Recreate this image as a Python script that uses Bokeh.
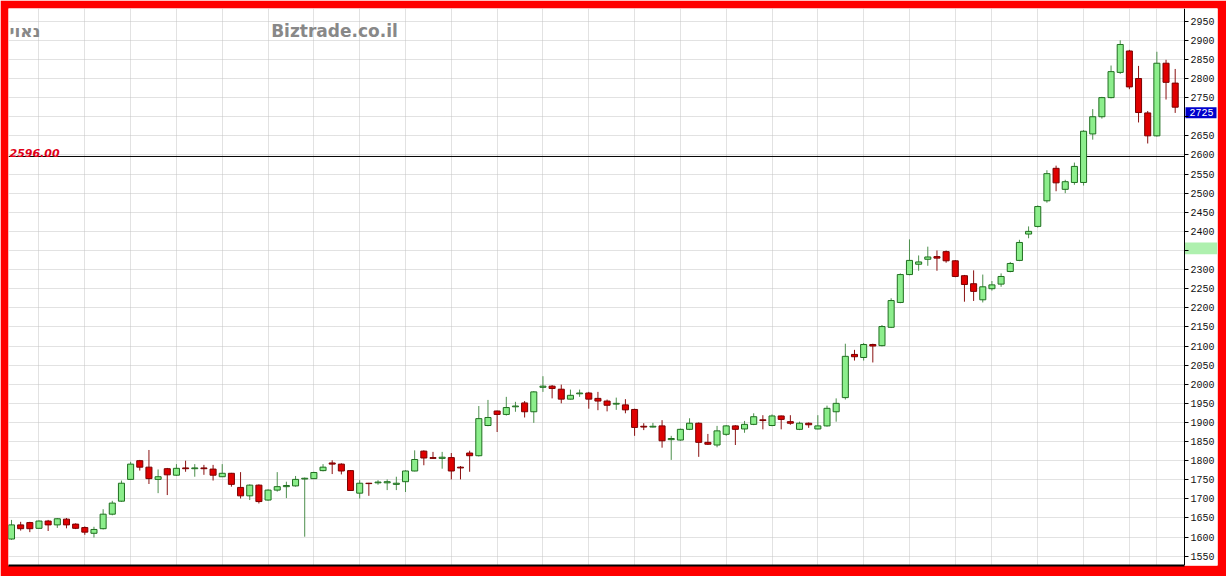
from bokeh.plotting import figure
from bokeh.models import Range1d, FixedTicker, Label
from bokeh.embed import file_html
from bokeh.resources import INLINE
from bokeh.core.properties import value

# ---- data ----
opens = [1595, 1632, 1638, 1623, 1642, 1632, 1647, 1634, 1625, 1610,
         1622, 1660, 1694, 1751, 1800, 1783, 1751, 1779, 1762, 1781,
         1779, 1781, 1778, 1758, 1767, 1730, 1708, 1736, 1697, 1723,
         1732, 1734, 1752, 1753, 1774, 1794, 1791, 1774, 1715, 1741,
         1742, 1742, 1738, 1745, 1773, 1825, 1808, 1806, 1808, 1783,
         1820, 1813, 1892, 1930, 1921, 1941, 1951, 1928, 1992, 1995,
         1987, 1961, 1975, 1977, 1963, 1956, 1948, 1946, 1934, 1890,
         1888, 1891, 1855, 1854, 1882, 1898, 1848, 1841, 1869, 1891,
         1883, 1895, 1907, 1892, 1917, 1902, 1882, 1898, 1883, 1891,
         1928, 1965, 2078, 2070, 2104, 2101, 2149, 2214, 2287, 2314,
         2327, 2334, 2347, 2323, 2284, 2263, 2221, 2250, 2262, 2295,
         2324, 2393, 2413, 2480, 2565, 2510, 2528, 2528, 2655, 2700,
         2750, 2816, 2872, 2800, 2710, 2650, 2840, 2788]
highs = [1645, 1640, 1640, 1644, 1645, 1650, 1650, 1636, 1628, 1627,
         1673, 1695, 1748, 1797, 1802, 1828, 1777, 1781, 1791, 1800,
         1791, 1789, 1789, 1791, 1768, 1770, 1738, 1738, 1725, 1770,
         1745, 1760, 1756, 1771, 1791, 1801, 1793, 1775, 1749, 1742,
         1749, 1751, 1758, 1775, 1827, 1827, 1823, 1823, 1820, 1786,
         1826, 1943, 1959, 1931, 1967, 1954, 1956, 1982, 2021, 1998,
         1999, 1986, 1986, 1980, 1980, 1960, 1965, 1961, 1936, 1898,
         1899, 1906, 1865, 1884, 1911, 1900, 1870, 1891, 1893, 1893,
         1904, 1924, 1919, 1921, 1918, 1919, 1902, 1900, 1919, 1944,
         1963, 2106, 2090, 2108, 2106, 2155, 2225, 2290, 2379, 2337,
         2360, 2350, 2350, 2325, 2286, 2298, 2287, 2270, 2290, 2320,
         2378, 2413, 2468, 2560, 2572, 2535, 2580, 2665, 2720, 2752,
         2834, 2900, 2875, 2833, 2715, 2870, 2849, 2825]
lows = [1593, 1617, 1613, 1622, 1616, 1624, 1623, 1621, 1606, 1599,
        1620, 1657, 1692, 1750, 1774, 1739, 1715, 1710, 1760, 1771,
        1758, 1763, 1748, 1757, 1732, 1701, 1697, 1688, 1695, 1719,
        1702, 1732, 1601, 1752, 1772, 1765, 1764, 1721, 1701, 1708,
        1737, 1723, 1723, 1718, 1772, 1788, 1805, 1779, 1751, 1751,
        1771, 1811, 1890, 1875, 1918, 1928, 1913, 1899, 1980, 1963,
        1950, 1960, 1967, 1936, 1932, 1929, 1933, 1924, 1865, 1880,
        1887, 1834, 1802, 1852, 1880, 1810, 1841, 1835, 1865, 1841,
        1873, 1893, 1882, 1890, 1882, 1894, 1880, 1886, 1882, 1889,
        1902, 1960, 2062, 2062, 2057, 2099, 2147, 2212, 2285, 2297,
        2310, 2297, 2318, 2280, 2216, 2218, 2214, 2245, 2255, 2293,
        2322, 2382, 2410, 2475, 2505, 2500, 2522, 2520, 2640, 2695,
        2748, 2812, 2772, 2685, 2630, 2648, 2745, 2710]
closes = [1632, 1622, 1622, 1642, 1632, 1648, 1632, 1623, 1613, 1620,
          1660, 1689, 1741, 1791, 1783, 1753, 1758, 1763, 1780, 1779,
          1781, 1779, 1762, 1767, 1738, 1708, 1736, 1693, 1723, 1732,
          1735, 1751, 1754, 1769, 1783, 1791, 1773, 1722, 1741, 1740,
          1744, 1745, 1741, 1773, 1803, 1807, 1806, 1809, 1773, 1781,
          1813, 1910, 1913, 1921, 1939, 1943, 1928, 1980, 1995, 1989,
          1961, 1971, 1977, 1961, 1956, 1945, 1950, 1933, 1887, 1888,
          1890, 1852, 1858, 1882, 1898, 1848, 1843, 1878, 1891, 1882,
          1895, 1915, 1905, 1917, 1908, 1898, 1898, 1894, 1891, 1937,
          1950, 2073, 2072, 2104, 2100, 2151, 2219, 2287, 2324, 2320,
          2333, 2330, 2323, 2282, 2261, 2243, 2255, 2260, 2282, 2316,
          2371, 2400, 2465, 2551, 2527, 2530, 2570, 2662, 2700, 2750,
          2818, 2889, 2778, 2711, 2650, 2840, 2790, 2725]
week_starts = [3, 8, 13, 18, 23, 28, 33, 38, 43, 48, 53, 58, 63, 68, 73, 78,
               83, 88, 93, 98, 103, 107, 112, 117, 122, 125]
y_ticks = list(range(1550, 2951, 50))
ref_level = 2596.00
last_price = 2725
green_zone = [2340, 2371]

# ---- layout constants ----
W, H = 1226, 576
B_LEFT, B_TOP, B_RIGHT, B_BOTTOM = 8, 8, 9, 11
Y0, Y1 = 1525.7, 2983.2
FRAME_W = W - B_LEFT - B_RIGHT
FRAME_H = H - B_TOP - B_BOTTOM
PX_PER_UNIT = FRAME_H / (Y1 - Y0)
PX_PER_CANDLE = 9.163
AXIS_W = 33
X_START = -0.327
X_END = X_START + FRAME_W / PX_PER_CANDLE
AXIS_X = X_START + (FRAME_W - AXIS_W) / PX_PER_CANDLE
PX = 1.0 / PX_PER_CANDLE          # one pixel in x units
TAG_H = 11 / PX_PER_UNIT          # price-tag height in price units

# ---- derived ----
idx = list(range(len(opens)))
is_up = [c >= o for o, c in zip(opens, closes)]
body_fill = ["#8cee8c" if u else "#e00000" for u in is_up]
body_line = ["#1f6e1f" if u else "#7a0000" for u in is_up]
wick_col = ["#4d8f4d" if u else "#8a1010" for u in is_up]
tops = [max(o, c) for o, c in zip(opens, closes)]
bots = [min(o, c) for o, c in zip(opens, closes)]

p = figure(width=W, height=H,
           x_range=Range1d(X_START, X_END), y_range=Range1d(Y0, Y1),
           output_backend="svg", toolbar_location=None,
           y_axis_location="right",
           min_border_left=B_LEFT, min_border_top=B_TOP,
           min_border_right=B_RIGHT, min_border_bottom=B_BOTTOM,
           border_fill_color="#ff0000", background_fill_color="white",
           outline_line_color=None)

# grids
p.ygrid.ticker = FixedTicker(ticks=y_ticks)
p.xgrid.ticker = FixedTicker(ticks=week_starts)
for g in (p.xgrid, p.ygrid):
    g.grid_line_color = "#c4c4c4"
    g.grid_line_dash = "1 1"
    g.grid_line_width = 1

# price-axis strip (white), green zone, last price tag
p.quad(left=[AXIS_X], right=[X_END], bottom=[Y0], top=[Y1],
       fill_color="white", line_color=None)
p.quad(left=[AXIS_X], right=[X_END], bottom=[green_zone[0]], top=[green_zone[1]],
       fill_color="#aef0ae", line_color=None)
p.quad(left=[AXIS_X + PX], right=[X_END - PX], bottom=[last_price - TAG_H], top=[last_price],
       fill_color="#0000cc", line_color=None)
p.text(x=[AXIS_X + 5 * PX], y=[last_price - TAG_H / 2], text=[str(last_price)],
       text_color="white", text_font=value("Liberation Mono"), text_font_size="10px",
       text_baseline="middle", text_align="left")

# reference line (ends at the price axis)
p.segment(x0=[X_START], x1=[AXIS_X], y0=[ref_level], y1=[ref_level],
          line_color="#000000", line_width=1)

# bottom axis: only a thick line
p.xaxis.ticker = FixedTicker(ticks=[])
p.xaxis.bounds = (X_START, AXIS_X)
p.xaxis.axis_line_width = 2
p.xaxis.axis_line_color = "#000000"
p.xaxis.major_tick_out = 0
p.xaxis.major_tick_in = 0
p.xaxis.minor_tick_out = 0
p.xaxis.minor_tick_in = 0

# right price axis, drawn at the edge of the candle area
ya = p.yaxis[0]
ya.fixed_location = AXIS_X
ya.ticker = FixedTicker(ticks=y_ticks)
ya.axis_line_color = "#000000"
ya.major_tick_out = 4
ya.major_tick_in = 0
ya.minor_tick_out = 0
ya.minor_tick_in = 0
ya.major_tick_line_color = "#000000"
ya.major_label_standoff = 2
ya.major_label_text_font = "Liberation Mono"
ya.major_label_text_font_size = "10px"
ya.major_label_text_color = "#111111"
ya.major_label_overrides = {2700: "", 2350: ""}  # covered by the tag / zone

# candles
p.segment(x0=idx, y0=lows, x1=idx, y1=highs, line_color=wick_col, line_width=1)
p.vbar(x=idx, bottom=bots, top=tops, width=0.66, fill_color=body_fill,
       line_color=body_line, line_width=1)

# reference level label
p.add_layout(Label(x=1, y=ref_level + 3 / PX_PER_UNIT, x_units="screen", y_units="data",
                   text="%.2f" % ref_level,
                   text_color="#e00018", text_font="DejaVu Sans", text_font_style="bold italic",
                   text_font_size="11px", text_baseline="alphabetic", text_align="left"))

# watermark and name
p.add_layout(Label(x=326, y=FRAME_H - 22, x_units="screen", y_units="screen",
                   text="Biztrade.co.il",
                   text_color="#888888", text_font="DejaVu Sans", text_font_style="bold",
                   text_font_size="17px", text_baseline="middle", text_align="center"))
p.add_layout(Label(x=1, y=FRAME_H - 22, x_units="screen", y_units="screen", text="נאוי",
                   text_color="#888888", text_font="DejaVu Sans", text_font_style="bold",
                   text_font_size="17px", text_baseline="middle", text_align="left"))

open("out.html", "w").write(file_html(p, INLINE))
